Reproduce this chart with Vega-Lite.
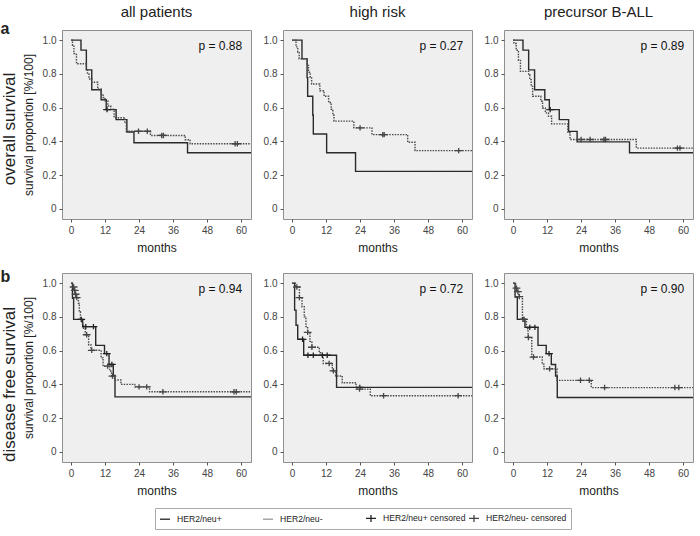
{
  "$schema": "https://vega.github.io/schema/vega-lite/v6.json",
  "padding": {"left": 0, "top": 4, "right": 2, "bottom": 2},
  "config": {
    "font": "Liberation Sans",
    "view": {"fill": "#efefef", "stroke": "#8f8f8f", "strokeWidth": 1},
    "axis": {"grid": false, "domain": false, "tickColor": "#555555", "tickSize": 3, "labelColor": "#444444", "labelFontSize": 10, "labelPadding": 3, "labelOverlap": false, "labelBound": false, "labelFlush": false, "titleFontSize": 12, "titleFontWeight": "normal", "titleColor": "#222222", "titlePadding": 7},
    "title": {"fontSize": 15, "fontWeight": "normal", "color": "#222222", "offset": 10},
    "legend": {"labelFontSize": 8.6, "labelColor": "#222222"}
  },
  "datasets": {
    "curves": [
      {"panel": "os_all", "group": "HER2/neu+", "month": 0, "surv": 1},
      {"panel": "os_all", "group": "HER2/neu+", "month": 3.5, "surv": 0.941},
      {"panel": "os_all", "group": "HER2/neu+", "month": 5.4, "surv": 0.824},
      {"panel": "os_all", "group": "HER2/neu+", "month": 7.3, "surv": 0.706},
      {"panel": "os_all", "group": "HER2/neu+", "month": 10.6, "surv": 0.647},
      {"panel": "os_all", "group": "HER2/neu+", "month": 12.4, "surv": 0.588},
      {"panel": "os_all", "group": "HER2/neu+", "month": 15.9, "surv": 0.529},
      {"panel": "os_all", "group": "HER2/neu+", "month": 19.7, "surv": 0.456},
      {"panel": "os_all", "group": "HER2/neu+", "month": 22.2, "surv": 0.392},
      {"panel": "os_all", "group": "HER2/neu+", "month": 41.1, "surv": 0.333},
      {"panel": "os_all", "group": "HER2/neu+", "month": 63.5, "surv": 0.333},
      {"panel": "os_all", "group": "HER2/neu-", "month": 0, "surv": 1},
      {"panel": "os_all", "group": "HER2/neu-", "month": 0.5, "surv": 0.97},
      {"panel": "os_all", "group": "HER2/neu-", "month": 1.0, "surv": 0.92},
      {"panel": "os_all", "group": "HER2/neu-", "month": 1.9, "surv": 0.86},
      {"panel": "os_all", "group": "HER2/neu-", "month": 5.4, "surv": 0.83},
      {"panel": "os_all", "group": "HER2/neu-", "month": 5.8, "surv": 0.8},
      {"panel": "os_all", "group": "HER2/neu-", "month": 6.3, "surv": 0.77},
      {"panel": "os_all", "group": "HER2/neu-", "month": 7.3, "surv": 0.75},
      {"panel": "os_all", "group": "HER2/neu-", "month": 9.4, "surv": 0.71},
      {"panel": "os_all", "group": "HER2/neu-", "month": 10.6, "surv": 0.68},
      {"panel": "os_all", "group": "HER2/neu-", "month": 11.3, "surv": 0.66},
      {"panel": "os_all", "group": "HER2/neu-", "month": 12.0, "surv": 0.64},
      {"panel": "os_all", "group": "HER2/neu-", "month": 13.0, "surv": 0.61},
      {"panel": "os_all", "group": "HER2/neu-", "month": 14.0, "surv": 0.59},
      {"panel": "os_all", "group": "HER2/neu-", "month": 15.2, "surv": 0.54},
      {"panel": "os_all", "group": "HER2/neu-", "month": 19.0, "surv": 0.51},
      {"panel": "os_all", "group": "HER2/neu-", "month": 19.5, "surv": 0.46},
      {"panel": "os_all", "group": "HER2/neu-", "month": 28.0, "surv": 0.435},
      {"panel": "os_all", "group": "HER2/neu-", "month": 40.3, "surv": 0.41},
      {"panel": "os_all", "group": "HER2/neu-", "month": 42.0, "surv": 0.386},
      {"panel": "os_all", "group": "HER2/neu-", "month": 63.5, "surv": 0.386},

      {"panel": "os_high", "group": "HER2/neu+", "month": 0, "surv": 1},
      {"panel": "os_high", "group": "HER2/neu+", "month": 3.5, "surv": 0.889},
      {"panel": "os_high", "group": "HER2/neu+", "month": 5.3, "surv": 0.778},
      {"panel": "os_high", "group": "HER2/neu+", "month": 5.5, "surv": 0.667},
      {"panel": "os_high", "group": "HER2/neu+", "month": 7.3, "surv": 0.556},
      {"panel": "os_high", "group": "HER2/neu+", "month": 7.5, "surv": 0.444},
      {"panel": "os_high", "group": "HER2/neu+", "month": 12.2, "surv": 0.333},
      {"panel": "os_high", "group": "HER2/neu+", "month": 22.4, "surv": 0.222},
      {"panel": "os_high", "group": "HER2/neu+", "month": 63.5, "surv": 0.222},
      {"panel": "os_high", "group": "HER2/neu-", "month": 0, "surv": 1},
      {"panel": "os_high", "group": "HER2/neu-", "month": 1.4, "surv": 0.96},
      {"panel": "os_high", "group": "HER2/neu-", "month": 2.0, "surv": 0.93},
      {"panel": "os_high", "group": "HER2/neu-", "month": 2.5, "surv": 0.89},
      {"panel": "os_high", "group": "HER2/neu-", "month": 5.3, "surv": 0.85},
      {"panel": "os_high", "group": "HER2/neu-", "month": 5.8, "surv": 0.81},
      {"panel": "os_high", "group": "HER2/neu-", "month": 6.4, "surv": 0.78},
      {"panel": "os_high", "group": "HER2/neu-", "month": 6.9, "surv": 0.74},
      {"panel": "os_high", "group": "HER2/neu-", "month": 9.8, "surv": 0.7},
      {"panel": "os_high", "group": "HER2/neu-", "month": 11.3, "surv": 0.667},
      {"panel": "os_high", "group": "HER2/neu-", "month": 12.9, "surv": 0.63},
      {"panel": "os_high", "group": "HER2/neu-", "month": 13.8, "surv": 0.59},
      {"panel": "os_high", "group": "HER2/neu-", "month": 14.4, "surv": 0.555},
      {"panel": "os_high", "group": "HER2/neu-", "month": 14.8, "surv": 0.52},
      {"panel": "os_high", "group": "HER2/neu-", "month": 21.8, "surv": 0.48},
      {"panel": "os_high", "group": "HER2/neu-", "month": 28.2, "surv": 0.44},
      {"panel": "os_high", "group": "HER2/neu-", "month": 40.8, "surv": 0.395},
      {"panel": "os_high", "group": "HER2/neu-", "month": 43.4, "surv": 0.345},
      {"panel": "os_high", "group": "HER2/neu-", "month": 63.5, "surv": 0.345},

      {"panel": "os_b", "group": "HER2/neu+", "month": 0, "surv": 1},
      {"panel": "os_b", "group": "HER2/neu+", "month": 3.5, "surv": 0.941},
      {"panel": "os_b", "group": "HER2/neu+", "month": 5.5, "surv": 0.824},
      {"panel": "os_b", "group": "HER2/neu+", "month": 7.6, "surv": 0.706},
      {"panel": "os_b", "group": "HER2/neu+", "month": 11.2, "surv": 0.647},
      {"panel": "os_b", "group": "HER2/neu+", "month": 12.8, "surv": 0.588},
      {"panel": "os_b", "group": "HER2/neu+", "month": 16.3, "surv": 0.529},
      {"panel": "os_b", "group": "HER2/neu+", "month": 19.6, "surv": 0.459},
      {"panel": "os_b", "group": "HER2/neu+", "month": 22.6, "surv": 0.397},
      {"panel": "os_b", "group": "HER2/neu+", "month": 41.1, "surv": 0.333},
      {"panel": "os_b", "group": "HER2/neu+", "month": 63.5, "surv": 0.333},
      {"panel": "os_b", "group": "HER2/neu-", "month": 0, "surv": 1},
      {"panel": "os_b", "group": "HER2/neu-", "month": 0.3, "surv": 0.98},
      {"panel": "os_b", "group": "HER2/neu-", "month": 1.1, "surv": 0.94},
      {"panel": "os_b", "group": "HER2/neu-", "month": 1.9, "surv": 0.88},
      {"panel": "os_b", "group": "HER2/neu-", "month": 2.6, "surv": 0.815},
      {"panel": "os_b", "group": "HER2/neu-", "month": 5.5, "surv": 0.795},
      {"panel": "os_b", "group": "HER2/neu-", "month": 5.9, "surv": 0.766},
      {"panel": "os_b", "group": "HER2/neu-", "month": 6.4, "surv": 0.726},
      {"panel": "os_b", "group": "HER2/neu-", "month": 6.9, "surv": 0.667},
      {"panel": "os_b", "group": "HER2/neu-", "month": 9.8, "surv": 0.638},
      {"panel": "os_b", "group": "HER2/neu-", "month": 10.4, "surv": 0.598},
      {"panel": "os_b", "group": "HER2/neu-", "month": 11.4, "surv": 0.569},
      {"panel": "os_b", "group": "HER2/neu-", "month": 12.5, "surv": 0.549},
      {"panel": "os_b", "group": "HER2/neu-", "month": 13.6, "surv": 0.504},
      {"panel": "os_b", "group": "HER2/neu-", "month": 19.3, "surv": 0.451},
      {"panel": "os_b", "group": "HER2/neu-", "month": 20.1, "surv": 0.411},
      {"panel": "os_b", "group": "HER2/neu-", "month": 43.5, "surv": 0.36},
      {"panel": "os_b", "group": "HER2/neu-", "month": 63.5, "surv": 0.36},

      {"panel": "dfs_all", "group": "HER2/neu+", "month": 0, "surv": 1},
      {"panel": "dfs_all", "group": "HER2/neu+", "month": 0.5, "surv": 0.91},
      {"panel": "dfs_all", "group": "HER2/neu+", "month": 0.9, "surv": 0.785},
      {"panel": "dfs_all", "group": "HER2/neu+", "month": 4.1, "surv": 0.742},
      {"panel": "dfs_all", "group": "HER2/neu+", "month": 8.7, "surv": 0.631},
      {"panel": "dfs_all", "group": "HER2/neu+", "month": 11.8, "surv": 0.582},
      {"panel": "dfs_all", "group": "HER2/neu+", "month": 13.4, "surv": 0.518},
      {"panel": "dfs_all", "group": "HER2/neu+", "month": 14.9, "surv": 0.453},
      {"panel": "dfs_all", "group": "HER2/neu+", "month": 15.5, "surv": 0.326},
      {"panel": "dfs_all", "group": "HER2/neu+", "month": 63.5, "surv": 0.326},
      {"panel": "dfs_all", "group": "HER2/neu-", "month": 0, "surv": 1},
      {"panel": "dfs_all", "group": "HER2/neu-", "month": 0.6, "surv": 0.977},
      {"panel": "dfs_all", "group": "HER2/neu-", "month": 1.0, "surv": 0.957},
      {"panel": "dfs_all", "group": "HER2/neu-", "month": 1.4, "surv": 0.934},
      {"panel": "dfs_all", "group": "HER2/neu-", "month": 1.8, "surv": 0.914},
      {"panel": "dfs_all", "group": "HER2/neu-", "month": 2.6, "surv": 0.88},
      {"panel": "dfs_all", "group": "HER2/neu-", "month": 2.9, "surv": 0.83},
      {"panel": "dfs_all", "group": "HER2/neu-", "month": 3.3, "surv": 0.785},
      {"panel": "dfs_all", "group": "HER2/neu-", "month": 3.8, "surv": 0.76},
      {"panel": "dfs_all", "group": "HER2/neu-", "month": 4.4, "surv": 0.732},
      {"panel": "dfs_all", "group": "HER2/neu-", "month": 5.0, "surv": 0.694},
      {"panel": "dfs_all", "group": "HER2/neu-", "month": 6.2, "surv": 0.635},
      {"panel": "dfs_all", "group": "HER2/neu-", "month": 7.0, "surv": 0.602},
      {"panel": "dfs_all", "group": "HER2/neu-", "month": 10.6, "surv": 0.557},
      {"panel": "dfs_all", "group": "HER2/neu-", "month": 11.3, "surv": 0.508},
      {"panel": "dfs_all", "group": "HER2/neu-", "month": 13.6, "surv": 0.479},
      {"panel": "dfs_all", "group": "HER2/neu-", "month": 14.3, "surv": 0.449},
      {"panel": "dfs_all", "group": "HER2/neu-", "month": 15.3, "surv": 0.426},
      {"panel": "dfs_all", "group": "HER2/neu-", "month": 17.6, "surv": 0.4},
      {"panel": "dfs_all", "group": "HER2/neu-", "month": 22.5, "surv": 0.385},
      {"panel": "dfs_all", "group": "HER2/neu-", "month": 27.7, "surv": 0.356},
      {"panel": "dfs_all", "group": "HER2/neu-", "month": 63.5, "surv": 0.356},

      {"panel": "dfs_high", "group": "HER2/neu+", "month": 0, "surv": 1},
      {"panel": "dfs_high", "group": "HER2/neu+", "month": 0.9, "surv": 0.84},
      {"panel": "dfs_high", "group": "HER2/neu+", "month": 1.4, "surv": 0.75},
      {"panel": "dfs_high", "group": "HER2/neu+", "month": 2.0, "surv": 0.667},
      {"panel": "dfs_high", "group": "HER2/neu+", "month": 4.1, "surv": 0.573},
      {"panel": "dfs_high", "group": "HER2/neu+", "month": 15.7, "surv": 0.382},
      {"panel": "dfs_high", "group": "HER2/neu+", "month": 63.5, "surv": 0.382},
      {"panel": "dfs_high", "group": "HER2/neu-", "month": 0, "surv": 1},
      {"panel": "dfs_high", "group": "HER2/neu-", "month": 1.2, "surv": 0.977},
      {"panel": "dfs_high", "group": "HER2/neu-", "month": 2.6, "surv": 0.914},
      {"panel": "dfs_high", "group": "HER2/neu-", "month": 3.5, "surv": 0.86},
      {"panel": "dfs_high", "group": "HER2/neu-", "month": 4.3, "surv": 0.8},
      {"panel": "dfs_high", "group": "HER2/neu-", "month": 4.9, "surv": 0.743},
      {"panel": "dfs_high", "group": "HER2/neu-", "month": 5.5, "surv": 0.708},
      {"panel": "dfs_high", "group": "HER2/neu-", "month": 6.3, "surv": 0.655},
      {"panel": "dfs_high", "group": "HER2/neu-", "month": 7.0, "surv": 0.62},
      {"panel": "dfs_high", "group": "HER2/neu-", "month": 9.6, "surv": 0.587},
      {"panel": "dfs_high", "group": "HER2/neu-", "month": 10.1, "surv": 0.567},
      {"panel": "dfs_high", "group": "HER2/neu-", "month": 11.0, "surv": 0.524},
      {"panel": "dfs_high", "group": "HER2/neu-", "month": 14.2, "surv": 0.48},
      {"panel": "dfs_high", "group": "HER2/neu-", "month": 15.4, "surv": 0.45},
      {"panel": "dfs_high", "group": "HER2/neu-", "month": 17.7, "surv": 0.41},
      {"panel": "dfs_high", "group": "HER2/neu-", "month": 22.6, "surv": 0.372},
      {"panel": "dfs_high", "group": "HER2/neu-", "month": 27.6, "surv": 0.333},
      {"panel": "dfs_high", "group": "HER2/neu-", "month": 63.5, "surv": 0.333},

      {"panel": "dfs_b", "group": "HER2/neu+", "month": 0, "surv": 1},
      {"panel": "dfs_b", "group": "HER2/neu+", "month": 0.7, "surv": 0.918},
      {"panel": "dfs_b", "group": "HER2/neu+", "month": 1.5, "surv": 0.785},
      {"panel": "dfs_b", "group": "HER2/neu+", "month": 4.2, "surv": 0.738},
      {"panel": "dfs_b", "group": "HER2/neu+", "month": 8.8, "surv": 0.631},
      {"panel": "dfs_b", "group": "HER2/neu+", "month": 11.7, "surv": 0.582},
      {"panel": "dfs_b", "group": "HER2/neu+", "month": 13.5, "surv": 0.518},
      {"panel": "dfs_b", "group": "HER2/neu+", "month": 15.0, "surv": 0.45},
      {"panel": "dfs_b", "group": "HER2/neu+", "month": 15.6, "surv": 0.322},
      {"panel": "dfs_b", "group": "HER2/neu+", "month": 63.5, "surv": 0.322},
      {"panel": "dfs_b", "group": "HER2/neu-", "month": 0, "surv": 1},
      {"panel": "dfs_b", "group": "HER2/neu-", "month": 0.9, "surv": 0.97},
      {"panel": "dfs_b", "group": "HER2/neu-", "month": 1.4, "surv": 0.95},
      {"panel": "dfs_b", "group": "HER2/neu-", "month": 2.0, "surv": 0.92},
      {"panel": "dfs_b", "group": "HER2/neu-", "month": 3.3, "surv": 0.785},
      {"panel": "dfs_b", "group": "HER2/neu-", "month": 4.7, "surv": 0.73},
      {"panel": "dfs_b", "group": "HER2/neu-", "month": 5.3, "surv": 0.678},
      {"panel": "dfs_b", "group": "HER2/neu-", "month": 6.6, "surv": 0.562},
      {"panel": "dfs_b", "group": "HER2/neu-", "month": 10.3, "surv": 0.52},
      {"panel": "dfs_b", "group": "HER2/neu-", "month": 10.9, "surv": 0.492},
      {"panel": "dfs_b", "group": "HER2/neu-", "month": 15.5, "surv": 0.424},
      {"panel": "dfs_b", "group": "HER2/neu-", "month": 27.6, "surv": 0.381},
      {"panel": "dfs_b", "group": "HER2/neu-", "month": 63.5, "surv": 0.381}
    ],
    "censor": [
      {"panel": "os_all", "series": "HER2/neu+ censored", "month": 12.7, "surv": 0.588},
      {"panel": "os_all", "series": "HER2/neu- censored", "month": 23.8, "surv": 0.46},
      {"panel": "os_all", "series": "HER2/neu- censored", "month": 26.9, "surv": 0.46},
      {"panel": "os_all", "series": "HER2/neu- censored", "month": 32.0, "surv": 0.435},
      {"panel": "os_all", "series": "HER2/neu- censored", "month": 32.6, "surv": 0.435},
      {"panel": "os_all", "series": "HER2/neu- censored", "month": 57.9, "surv": 0.386},
      {"panel": "os_all", "series": "HER2/neu- censored", "month": 58.7, "surv": 0.386},
      {"panel": "os_high", "series": "HER2/neu- censored", "month": 24.0, "surv": 0.48},
      {"panel": "os_high", "series": "HER2/neu- censored", "month": 32.0, "surv": 0.44},
      {"panel": "os_high", "series": "HER2/neu- censored", "month": 32.5, "surv": 0.44},
      {"panel": "os_high", "series": "HER2/neu- censored", "month": 58.8, "surv": 0.345},
      {"panel": "os_b", "series": "HER2/neu+ censored", "month": 13.1, "surv": 0.588},
      {"panel": "os_b", "series": "HER2/neu- censored", "month": 24.0, "surv": 0.411},
      {"panel": "os_b", "series": "HER2/neu- censored", "month": 27.2, "surv": 0.411},
      {"panel": "os_b", "series": "HER2/neu- censored", "month": 32.1, "surv": 0.411},
      {"panel": "os_b", "series": "HER2/neu- censored", "month": 32.6, "surv": 0.411},
      {"panel": "os_b", "series": "HER2/neu- censored", "month": 58.0, "surv": 0.36},
      {"panel": "os_b", "series": "HER2/neu- censored", "month": 58.9, "surv": 0.36},
      {"panel": "dfs_all", "series": "HER2/neu+ censored", "month": 3.6, "surv": 0.785},
      {"panel": "dfs_all", "series": "HER2/neu+ censored", "month": 5.2, "surv": 0.742},
      {"panel": "dfs_all", "series": "HER2/neu+ censored", "month": 7.9, "surv": 0.742},
      {"panel": "dfs_all", "series": "HER2/neu+ censored", "month": 12.6, "surv": 0.582},
      {"panel": "dfs_all", "series": "HER2/neu+ censored", "month": 14.4, "surv": 0.518},
      {"panel": "dfs_all", "series": "HER2/neu- censored", "month": 0.9, "surv": 0.977},
      {"panel": "dfs_all", "series": "HER2/neu- censored", "month": 1.3, "surv": 0.957},
      {"panel": "dfs_all", "series": "HER2/neu- censored", "month": 1.6, "surv": 0.934},
      {"panel": "dfs_all", "series": "HER2/neu- censored", "month": 2.0, "surv": 0.914},
      {"panel": "dfs_all", "series": "HER2/neu- censored", "month": 5.5, "surv": 0.694},
      {"panel": "dfs_all", "series": "HER2/neu- censored", "month": 7.3, "surv": 0.602},
      {"panel": "dfs_all", "series": "HER2/neu- censored", "month": 12.9, "surv": 0.508},
      {"panel": "dfs_all", "series": "HER2/neu- censored", "month": 14.6, "surv": 0.449},
      {"panel": "dfs_all", "series": "HER2/neu- censored", "month": 24.0, "surv": 0.385},
      {"panel": "dfs_all", "series": "HER2/neu- censored", "month": 26.7, "surv": 0.385},
      {"panel": "dfs_all", "series": "HER2/neu- censored", "month": 32.4, "surv": 0.356},
      {"panel": "dfs_all", "series": "HER2/neu- censored", "month": 57.5, "surv": 0.356},
      {"panel": "dfs_all", "series": "HER2/neu- censored", "month": 58.3, "surv": 0.356},
      {"panel": "dfs_high", "series": "HER2/neu+ censored", "month": 3.7, "surv": 0.667},
      {"panel": "dfs_high", "series": "HER2/neu+ censored", "month": 5.6, "surv": 0.573},
      {"panel": "dfs_high", "series": "HER2/neu+ censored", "month": 7.5, "surv": 0.573},
      {"panel": "dfs_high", "series": "HER2/neu+ censored", "month": 10.7, "surv": 0.573},
      {"panel": "dfs_high", "series": "HER2/neu+ censored", "month": 12.4, "surv": 0.573},
      {"panel": "dfs_high", "series": "HER2/neu+ censored", "month": 23.9, "surv": 0.382},
      {"panel": "dfs_high", "series": "HER2/neu- censored", "month": 1.7, "surv": 0.977},
      {"panel": "dfs_high", "series": "HER2/neu- censored", "month": 2.6, "surv": 0.914},
      {"panel": "dfs_high", "series": "HER2/neu- censored", "month": 5.5, "surv": 0.708},
      {"panel": "dfs_high", "series": "HER2/neu- censored", "month": 7.0, "surv": 0.62},
      {"panel": "dfs_high", "series": "HER2/neu- censored", "month": 13.1, "surv": 0.524},
      {"panel": "dfs_high", "series": "HER2/neu- censored", "month": 14.6, "surv": 0.48},
      {"panel": "dfs_high", "series": "HER2/neu- censored", "month": 23.8, "surv": 0.372},
      {"panel": "dfs_high", "series": "HER2/neu- censored", "month": 32.3, "surv": 0.333},
      {"panel": "dfs_high", "series": "HER2/neu- censored", "month": 58.6, "surv": 0.333},
      {"panel": "dfs_b", "series": "HER2/neu+ censored", "month": 3.5, "surv": 0.785},
      {"panel": "dfs_b", "series": "HER2/neu+ censored", "month": 5.9, "surv": 0.738},
      {"panel": "dfs_b", "series": "HER2/neu+ censored", "month": 7.7, "surv": 0.738},
      {"panel": "dfs_b", "series": "HER2/neu+ censored", "month": 12.7, "surv": 0.582},
      {"panel": "dfs_b", "series": "HER2/neu- censored", "month": 1.2, "surv": 0.97},
      {"panel": "dfs_b", "series": "HER2/neu- censored", "month": 1.7, "surv": 0.95},
      {"panel": "dfs_b", "series": "HER2/neu- censored", "month": 2.2, "surv": 0.92},
      {"panel": "dfs_b", "series": "HER2/neu- censored", "month": 3.9, "surv": 0.785},
      {"panel": "dfs_b", "series": "HER2/neu- censored", "month": 5.4, "surv": 0.678},
      {"panel": "dfs_b", "series": "HER2/neu- censored", "month": 7.2, "surv": 0.562},
      {"panel": "dfs_b", "series": "HER2/neu- censored", "month": 12.9, "surv": 0.492},
      {"panel": "dfs_b", "series": "HER2/neu- censored", "month": 23.8, "surv": 0.424},
      {"panel": "dfs_b", "series": "HER2/neu- censored", "month": 26.9, "surv": 0.424},
      {"panel": "dfs_b", "series": "HER2/neu- censored", "month": 32.3, "surv": 0.381},
      {"panel": "dfs_b", "series": "HER2/neu- censored", "month": 57.1, "surv": 0.381},
      {"panel": "dfs_b", "series": "HER2/neu- censored", "month": 58.5, "surv": 0.381}
    ],
    "pvals": [
      {"panel": "os_all", "label": "p = 0.88"},
      {"panel": "os_high", "label": "p = 0.27"},
      {"panel": "os_b", "label": "p = 0.89"},
      {"panel": "dfs_all", "label": "p = 0.94"},
      {"panel": "dfs_high", "label": "p = 0.72"},
      {"panel": "dfs_b", "label": "p = 0.90"}
    ]
  },
  "vconcat": [
    {
      "title": {"text": "a", "anchor": "start", "frame": "bounds", "fontSize": 16, "fontWeight": "bold", "offset": -32},
      "vconcat": [
        {
          "title": {"text": "overall survival", "orient": "left", "anchor": "middle", "fontSize": 17, "fontWeight": "normal", "offset": 3},
          "spacing": 10,
          "hconcat": [
            {
              "width": 189, "height": 189,
              "title": {"text": "all patients", "anchor": "middle"},
              "layer": [
                {"data": {"name": "curves"}, "transform": [{"filter": "datum.panel === 'os_all'"}],
                 "mark": {"type": "line", "interpolate": "step-after", "clip": true, "strokeWidth": 1.4},
                 "encoding": {
                   "x": {"field": "month", "type": "quantitative", "scale": {"domain": [-3.2, 63.5], "nice": false, "zero": false}, "axis": {"values": [0, 12, 24, 36, 48, 60], "tickCount": 20, "labelOverlap": false, "title": "months"}},
                   "y": {"field": "surv", "type": "quantitative", "scale": {"domain": [-0.06, 1.06], "nice": false, "zero": false}, "axis": {"values": [0, 0.2, 0.4, 0.6, 0.8, 1.0], "tickCount": 20, "labelOverlap": false, "labelExpr": "datum.value == 0 ? '0' : format(datum.value, '.1f')", "title": "survival proportion [%/100]"}},
                   "stroke": {"field": "group", "type": "nominal", "scale": {"domain": ["HER2/neu+", "HER2/neu-"], "range": ["#2a2a2a", "#4a4a4a"]}, "legend": null},
                   "strokeDash": {"field": "group", "type": "nominal", "scale": {"domain": ["HER2/neu+", "HER2/neu-"], "range": [[1, 0], [1.5, 1.2]]}, "legend": null},
                   "order": {"field": "month", "type": "quantitative"}
                 }},
                {"data": {"name": "censor"}, "transform": [{"filter": "datum.panel === 'os_all'"}],
                 "mark": {"type": "point", "filled": false, "strokeWidth": 1.3, "size": 60, "clip": true, "opacity": 1},
                 "encoding": {
                   "x": {"field": "month", "type": "quantitative"},
                   "y": {"field": "surv", "type": "quantitative"},
                   "shape": {"field": "series", "type": "nominal", "scale": {"domain": ["HER2/neu+", "HER2/neu-", "HER2/neu+ censored", "HER2/neu- censored"], "range": ["M-1,0L1,0", "M-1,0L1,0", "M-1,0L1,0M0,-0.7L0,0.7", "M-1,0L1,0M0,-0.7L0,0.7"]}, "legend": {"title": null, "orient": "none", "legendX": 93, "legendY": 478, "direction": "horizontal", "columns": 4, "gridAlign": "all", "columnPadding": 0, "strokeColor": "#aaaaaa", "padding": 4, "symbolSize": 100, "symbolStrokeWidth": 1.3, "labelOffset": 6}},
                   "color": {"field": "series", "type": "nominal", "scale": {"domain": ["HER2/neu+", "HER2/neu-", "HER2/neu+ censored", "HER2/neu- censored"], "range": ["#222222", "#999999", "#222222", "#444444"]}, "legend": {"title": null, "orient": "none", "legendX": 93, "legendY": 478, "direction": "horizontal", "columns": 4, "gridAlign": "all", "columnPadding": 0, "strokeColor": "#aaaaaa", "padding": 4, "symbolSize": 100, "symbolStrokeWidth": 1.3, "labelOffset": 6}}
                 }},
                {"data": {"name": "pvals"}, "transform": [{"filter": "datum.panel === 'os_all'"}],
                 "mark": {"type": "text", "align": "right", "baseline": "middle", "fontSize": 12, "color": "#111111"},
                 "encoding": {"x": {"datum": 60.4, "type": "quantitative"}, "y": {"datum": 0.965, "type": "quantitative"}, "text": {"field": "label"}}}
              ]
            },
            {
              "width": 189, "height": 189,
              "title": {"text": "high risk", "anchor": "middle"},
              "layer": [
                {"data": {"name": "curves"}, "transform": [{"filter": "datum.panel === 'os_high'"}],
                 "mark": {"type": "line", "interpolate": "step-after", "clip": true, "strokeWidth": 1.4},
                 "encoding": {
                   "x": {"field": "month", "type": "quantitative", "scale": {"domain": [-3.2, 63.5], "nice": false, "zero": false}, "axis": {"values": [0, 12, 24, 36, 48, 60], "tickCount": 20, "labelOverlap": false, "title": "months"}},
                   "y": {"field": "surv", "type": "quantitative", "scale": {"domain": [-0.06, 1.06], "nice": false, "zero": false}, "axis": {"values": [0, 0.2, 0.4, 0.6, 0.8, 1.0], "tickCount": 20, "labelOverlap": false, "labelExpr": "datum.value == 0 ? '0' : format(datum.value, '.1f')", "title": null}},
                   "stroke": {"field": "group", "type": "nominal", "legend": null},
                   "strokeDash": {"field": "group", "type": "nominal", "legend": null},
                   "order": {"field": "month", "type": "quantitative"}
                 }},
                {"data": {"name": "censor"}, "transform": [{"filter": "datum.panel === 'os_high'"}],
                 "mark": {"type": "point", "filled": false, "strokeWidth": 1.3, "size": 60, "clip": true, "opacity": 1},
                 "encoding": {
                   "x": {"field": "month", "type": "quantitative"},
                   "y": {"field": "surv", "type": "quantitative"},
                   "shape": {"field": "series", "type": "nominal"},
                   "color": {"field": "series", "type": "nominal"}
                 }},
                {"data": {"name": "pvals"}, "transform": [{"filter": "datum.panel === 'os_high'"}],
                 "mark": {"type": "text", "align": "right", "baseline": "middle", "fontSize": 12, "color": "#111111"},
                 "encoding": {"x": {"datum": 60.4, "type": "quantitative"}, "y": {"datum": 0.965, "type": "quantitative"}, "text": {"field": "label"}}}
              ]
            },
            {
              "width": 189, "height": 189,
              "title": {"text": "precursor B-ALL", "anchor": "middle"},
              "layer": [
                {"data": {"name": "curves"}, "transform": [{"filter": "datum.panel === 'os_b'"}],
                 "mark": {"type": "line", "interpolate": "step-after", "clip": true, "strokeWidth": 1.4},
                 "encoding": {
                   "x": {"field": "month", "type": "quantitative", "scale": {"domain": [-3.2, 63.5], "nice": false, "zero": false}, "axis": {"values": [0, 12, 24, 36, 48, 60], "tickCount": 20, "labelOverlap": false, "title": "months"}},
                   "y": {"field": "surv", "type": "quantitative", "scale": {"domain": [-0.06, 1.06], "nice": false, "zero": false}, "axis": {"values": [0, 0.2, 0.4, 0.6, 0.8, 1.0], "tickCount": 20, "labelOverlap": false, "labelExpr": "datum.value == 0 ? '0' : format(datum.value, '.1f')", "title": null}},
                   "stroke": {"field": "group", "type": "nominal", "legend": null},
                   "strokeDash": {"field": "group", "type": "nominal", "legend": null},
                   "order": {"field": "month", "type": "quantitative"}
                 }},
                {"data": {"name": "censor"}, "transform": [{"filter": "datum.panel === 'os_b'"}],
                 "mark": {"type": "point", "filled": false, "strokeWidth": 1.3, "size": 60, "clip": true, "opacity": 1},
                 "encoding": {
                   "x": {"field": "month", "type": "quantitative"},
                   "y": {"field": "surv", "type": "quantitative"},
                   "shape": {"field": "series", "type": "nominal"},
                   "color": {"field": "series", "type": "nominal"}
                 }},
                {"data": {"name": "pvals"}, "transform": [{"filter": "datum.panel === 'os_b'"}],
                 "mark": {"type": "text", "align": "right", "baseline": "middle", "fontSize": 12, "color": "#111111"},
                 "encoding": {"x": {"datum": 60.4, "type": "quantitative"}, "y": {"datum": 0.965, "type": "quantitative"}, "text": {"field": "label"}}}
              ]
            }
          ]
        }
      ]
    },
    {
      "title": {"text": "b", "anchor": "start", "frame": "bounds", "fontSize": 16, "fontWeight": "bold", "offset": -12},
      "vconcat": [
        {
          "title": {"text": "disease free survival", "orient": "left", "anchor": "middle", "fontSize": 17, "fontWeight": "normal", "offset": 3},
          "spacing": 10,
          "hconcat": [
            {
              "width": 189, "height": 189,
              "layer": [
                {"data": {"name": "curves"}, "transform": [{"filter": "datum.panel === 'dfs_all'"}],
                 "mark": {"type": "line", "interpolate": "step-after", "clip": true, "strokeWidth": 1.4},
                 "encoding": {
                   "x": {"field": "month", "type": "quantitative", "scale": {"domain": [-3.2, 63.5], "nice": false, "zero": false}, "axis": {"values": [0, 12, 24, 36, 48, 60], "tickCount": 20, "labelOverlap": false, "title": "months"}},
                   "y": {"field": "surv", "type": "quantitative", "scale": {"domain": [-0.06, 1.06], "nice": false, "zero": false}, "axis": {"values": [0, 0.2, 0.4, 0.6, 0.8, 1.0], "tickCount": 20, "labelOverlap": false, "labelExpr": "datum.value == 0 ? '0' : format(datum.value, '.1f')", "title": "survival proportion [%/100]"}},
                   "stroke": {"field": "group", "type": "nominal", "legend": null},
                   "strokeDash": {"field": "group", "type": "nominal", "legend": null},
                   "order": {"field": "month", "type": "quantitative"}
                 }},
                {"data": {"name": "censor"}, "transform": [{"filter": "datum.panel === 'dfs_all'"}],
                 "mark": {"type": "point", "filled": false, "strokeWidth": 1.3, "size": 60, "clip": true, "opacity": 1},
                 "encoding": {
                   "x": {"field": "month", "type": "quantitative"},
                   "y": {"field": "surv", "type": "quantitative"},
                   "shape": {"field": "series", "type": "nominal"},
                   "color": {"field": "series", "type": "nominal"}
                 }},
                {"data": {"name": "pvals"}, "transform": [{"filter": "datum.panel === 'dfs_all'"}],
                 "mark": {"type": "text", "align": "right", "baseline": "middle", "fontSize": 12, "color": "#111111"},
                 "encoding": {"x": {"datum": 60.4, "type": "quantitative"}, "y": {"datum": 0.965, "type": "quantitative"}, "text": {"field": "label"}}}
              ]
            },
            {
              "width": 189, "height": 189,
              "layer": [
                {"data": {"name": "curves"}, "transform": [{"filter": "datum.panel === 'dfs_high'"}],
                 "mark": {"type": "line", "interpolate": "step-after", "clip": true, "strokeWidth": 1.4},
                 "encoding": {
                   "x": {"field": "month", "type": "quantitative", "scale": {"domain": [-3.2, 63.5], "nice": false, "zero": false}, "axis": {"values": [0, 12, 24, 36, 48, 60], "tickCount": 20, "labelOverlap": false, "title": "months"}},
                   "y": {"field": "surv", "type": "quantitative", "scale": {"domain": [-0.06, 1.06], "nice": false, "zero": false}, "axis": {"values": [0, 0.2, 0.4, 0.6, 0.8, 1.0], "tickCount": 20, "labelOverlap": false, "labelExpr": "datum.value == 0 ? '0' : format(datum.value, '.1f')", "title": null}},
                   "stroke": {"field": "group", "type": "nominal", "legend": null},
                   "strokeDash": {"field": "group", "type": "nominal", "legend": null},
                   "order": {"field": "month", "type": "quantitative"}
                 }},
                {"data": {"name": "censor"}, "transform": [{"filter": "datum.panel === 'dfs_high'"}],
                 "mark": {"type": "point", "filled": false, "strokeWidth": 1.3, "size": 60, "clip": true, "opacity": 1},
                 "encoding": {
                   "x": {"field": "month", "type": "quantitative"},
                   "y": {"field": "surv", "type": "quantitative"},
                   "shape": {"field": "series", "type": "nominal"},
                   "color": {"field": "series", "type": "nominal"}
                 }},
                {"data": {"name": "pvals"}, "transform": [{"filter": "datum.panel === 'dfs_high'"}],
                 "mark": {"type": "text", "align": "right", "baseline": "middle", "fontSize": 12, "color": "#111111"},
                 "encoding": {"x": {"datum": 60.4, "type": "quantitative"}, "y": {"datum": 0.965, "type": "quantitative"}, "text": {"field": "label"}}}
              ]
            },
            {
              "width": 189, "height": 189,
              "layer": [
                {"data": {"name": "curves"}, "transform": [{"filter": "datum.panel === 'dfs_b'"}],
                 "mark": {"type": "line", "interpolate": "step-after", "clip": true, "strokeWidth": 1.4},
                 "encoding": {
                   "x": {"field": "month", "type": "quantitative", "scale": {"domain": [-3.2, 63.5], "nice": false, "zero": false}, "axis": {"values": [0, 12, 24, 36, 48, 60], "tickCount": 20, "labelOverlap": false, "title": "months"}},
                   "y": {"field": "surv", "type": "quantitative", "scale": {"domain": [-0.06, 1.06], "nice": false, "zero": false}, "axis": {"values": [0, 0.2, 0.4, 0.6, 0.8, 1.0], "tickCount": 20, "labelOverlap": false, "labelExpr": "datum.value == 0 ? '0' : format(datum.value, '.1f')", "title": null}},
                   "stroke": {"field": "group", "type": "nominal", "legend": null},
                   "strokeDash": {"field": "group", "type": "nominal", "legend": null},
                   "order": {"field": "month", "type": "quantitative"}
                 }},
                {"data": {"name": "censor"}, "transform": [{"filter": "datum.panel === 'dfs_b'"}],
                 "mark": {"type": "point", "filled": false, "strokeWidth": 1.3, "size": 60, "clip": true, "opacity": 1},
                 "encoding": {
                   "x": {"field": "month", "type": "quantitative"},
                   "y": {"field": "surv", "type": "quantitative"},
                   "shape": {"field": "series", "type": "nominal"},
                   "color": {"field": "series", "type": "nominal"}
                 }},
                {"data": {"name": "pvals"}, "transform": [{"filter": "datum.panel === 'dfs_b'"}],
                 "mark": {"type": "text", "align": "right", "baseline": "middle", "fontSize": 12, "color": "#111111"},
                 "encoding": {"x": {"datum": 60.4, "type": "quantitative"}, "y": {"datum": 0.965, "type": "quantitative"}, "text": {"field": "label"}}}
              ]
            }
          ]
        }
      ]
    }
  ],
  "spacing": 14
}
